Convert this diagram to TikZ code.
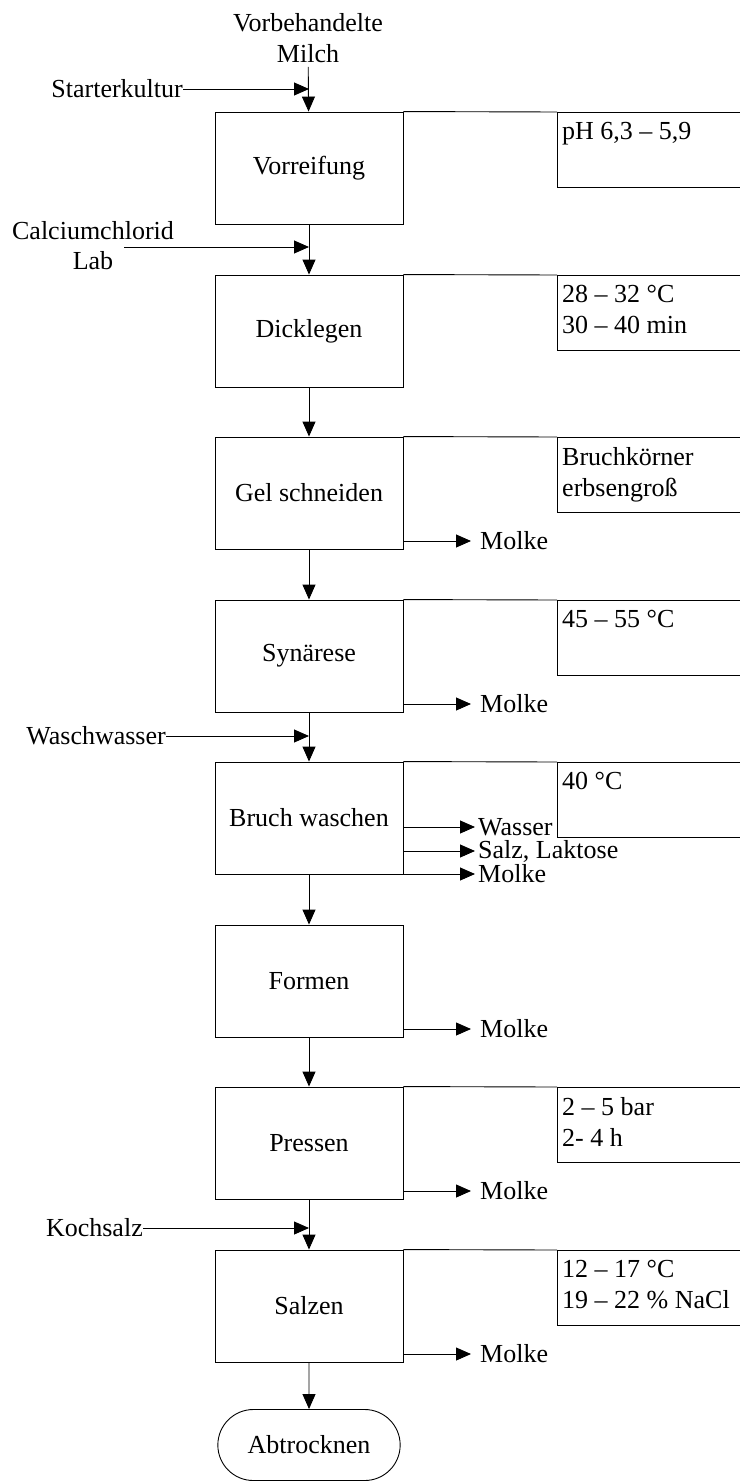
\documentclass[tikz,border=0pt]{standalone}
\usepackage{fontspec}
\setmainfont{Liberation Serif}
\usepackage{tikz}
\usetikzlibrary{arrows.meta,shapes.misc}

\begin{document}
\begin{tikzpicture}[x=1pt,y=-1pt]
    \tikzstyle{every node}=[font=\fontsize{26}{31}\selectfont];
    \tikzstyle{proc}=[draw, line width=0.9pt, minimum width=188pt, minimum height=112pt];
    \tikzstyle{note}=[draw, line width=0.9pt, anchor=north west, minimum width=200pt, minimum height=75pt];
    \tikzstyle{notetext}=[anchor=north west, align=left, inner xsep=5pt, inner ysep=10pt];
    \tikzstyle{outtext}=[anchor=west, inner xsep=9pt];
    \tikzstyle{intext}=[anchor=east, inner xsep=0pt];
    \tikzstyle{flow}=[line width=0.9pt, -{Triangle[length=15pt,width=13pt]}];
    \useasboundingbox (0,0) rectangle (739,1482);
    % process steps
    \node[proc] (v1) at (309, 168) {Vorreifung};
    \node[proc] (v2) at (309, 331) {Dicklegen};
    \node[proc] (v3) at (309, 493) {Gel schneiden};
    \node[proc] (v4) at (309, 656) {Synärese};
    \node[proc] (v5) at (309, 818) {Bruch waschen};
    \node[proc] (v6) at (309, 981) {Formen};
    \node[proc] (v7) at (309, 1143) {Pressen};
    \node[proc] (v8) at (309, 1306) {Salzen};
    \node[draw, line width=0.9pt, rounded rectangle, minimum width=189pt, minimum height=71pt] (v9) at (309, 1445) {Abtrocknen};
    \path[draw] [flow] (v1) -- (v2);
    \path[draw] [flow] (v2) -- (v3);
    \path[draw] [flow] (v3) -- (v4);
    \path[draw] [flow] (v4) -- (v5);
    \path[draw] [flow] (v5) -- (v6);
    \path[draw] [flow] (v6) -- (v7);
    \path[draw] [flow] (v7) -- (v8);
    \path[draw] [flow] (v8) -- (v9);
    % inputs
    \node[align=center, anchor=south, inner sep=4pt] (milk) at (308, 67) {Vorbehandelte\\Milch};
    \path[draw] [flow] (milk) -- (v1);
    \node[intext] (sk) at (183, 89) {Starterkultur};
    \path[draw] [flow] (sk.east) -- (sk.east -| v1.north);
    \node (ca) at (93, 231) {Calciumchlorid};
    \node (lab) at (93, 261) {Lab};
    \coordinate (cain) at (124, 247);
    \path[draw] [flow] (cain) -- (cain -| v2.north);
    \node[intext] (ww) at (166, 736) {Waschwasser};
    \path[draw] [flow] (ww.east) -- (ww.east -| v5.north);
    \node[intext] (ks) at (143, 1228) {Kochsalz};
    \path[draw] [flow] (ks.east) -- (ks.east -| v8.north);
    % notes
    \node[note] (n1) at (557, 112) {};
    \node[note] (n2) at (557, 275) {};
    \node[note] (n3) at (557, 437) {};
    \node[note] (n4) at (557, 600) {};
    \node[note] (n5) at (557, 762) {};
    \node[note] (n7) at (557, 1087) {};
    \node[note] (n8) at (557, 1250) {};
    \node[notetext] (t1) at (n1.north west) {pH 6,3 -- 5,9};
    \node[notetext] (t2) at (n2.north west) {28 -- 32 °C\\30 -- 40 min};
    \node[notetext] (t3) at (n3.north west) {Bruchkörner\\erbsengroß};
    \node[notetext] (t4) at (n4.north west) {45 -- 55 °C};
    \node[notetext] (t5) at (n5.north west) {40 °C};
    \node[notetext] (t7) at (n7.north west) {2 -- 5 bar\\2- 4 h};
    \node[notetext] (t8) at (n8.north west) {12 -- 17 °C\\19 -- 22 \% NaCl};
    \path[draw] [line width=0.9pt] (v1.north east) -- (n1.north west);
    \path[draw] [line width=0.9pt] (v2.north east) -- (n2.north west);
    \path[draw] [line width=0.9pt] (v3.north east) -- (n3.north west);
    \path[draw] [line width=0.9pt] (v4.north east) -- (n4.north west);
    \path[draw] [line width=0.9pt] (v5.north east) -- (n5.north west);
    \path[draw] [line width=0.9pt] (v7.north east) -- (n7.north west);
    \path[draw] [line width=0.9pt] (v8.north east) -- (n8.north west);
    % outputs
    \node[outtext] (m3) at (471, 541) {Molke};
    \node[outtext] (m4) at (471, 704) {Molke};
    \node[outtext] (m6) at (471, 1029) {Molke};
    \node[outtext] (m7) at (471, 1191) {Molke};
    \node[outtext] (m8) at (471, 1354) {Molke};
    \path[draw] [flow] (m3.west -| v3.east) -- (m3.west);
    \path[draw] [flow] (m4.west -| v4.east) -- (m4.west);
    \path[draw] [flow] (m6.west -| v6.east) -- (m6.west);
    \path[draw] [flow] (m7.west -| v7.east) -- (m7.west);
    \path[draw] [flow] (m8.west -| v8.east) -- (m8.west);
    \node[outtext, inner xsep=3pt] (o1) at (475, 827) {Wasser};
    \node[outtext, inner xsep=3pt] (o2) at (475, 851) {Salz, Laktose};
    \node[outtext, inner xsep=3pt] (o3) at (475, 874) {Molke};
    \path[draw] [flow] (o1.west -| v5.east) -- (o1.west);
    \path[draw] [flow] (o2.west -| v5.east) -- (o2.west);
    \path[draw] [flow] (o3.west -| v5.east) -- (o3.west);
\end{tikzpicture}
\end{document}
